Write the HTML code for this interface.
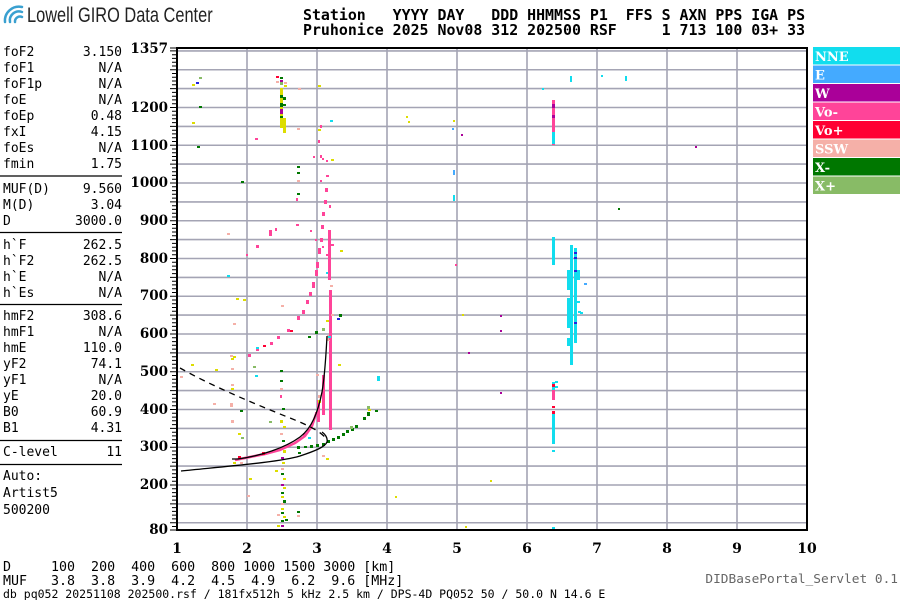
<!DOCTYPE html>
<html><head><meta charset="utf-8"><style>
body{margin:0;background:#fff;width:900px;height:600px;overflow:hidden}
svg{display:block}
.m{font-family:"DejaVu Sans Mono","Liberation Mono",monospace}
.s{font-family:"DejaVu Serif","Liberation Serif",serif;font-weight:bold}
.Y{fill:#dddd00}.G{fill:#007700}.g{fill:#88bb66}.P{fill:#ff4499}.R{fill:#ff0033}.S{fill:#f5b0a8}.W{fill:#aa0099}.C{fill:#11ddee}.E{fill:#44aaff}.B{fill:#2222dd}
</style></head><body>
<svg width="900" height="600" viewBox="0 0 900 600" xmlns="http://www.w3.org/2000/svg">
<g fill="none" stroke="#3aa0d0" stroke-width="2.5" stroke-linecap="round">
<path d="M5 22 A14 14 0 0 1 22 7"/><path d="M10 22 A9 9 0 0 1 22 12"/><path d="M15 22 A5 5 0 0 1 22 17"/></g>
<text x="27" y="22" font-family="Liberation Sans,sans-serif" font-size="21" fill="#222" transform="translate(27 0) scale(0.78 1) translate(-27 0)">Lowell GIRO Data Center</text>
<text class="m" x="303" y="20" font-size="14.9" font-weight="bold" xml:space="preserve">Station   YYYY DAY   DDD HHMMSS P1  FFS S AXN PPS IGA PS</text>
<text class="m" x="303" y="35" font-size="14.9" font-weight="bold" xml:space="preserve">Pruhonice 2025 Nov08 312 202500 RSF     1 713 100 03+ 33</text>
<g class="m" font-size="13" fill="#000">
<text x="3" y="56">foF2</text><text x="122" y="56" text-anchor="end">3.150</text>
<text x="3" y="72">foF1</text><text x="122" y="72" text-anchor="end">N/A</text>
<text x="3" y="88">foF1p</text><text x="122" y="88" text-anchor="end">N/A</text>
<text x="3" y="104">foE</text><text x="122" y="104" text-anchor="end">N/A</text>
<text x="3" y="120">foEp</text><text x="122" y="120" text-anchor="end">0.48</text>
<text x="3" y="136">fxI</text><text x="122" y="136" text-anchor="end">4.15</text>
<text x="3" y="152">foEs</text><text x="122" y="152" text-anchor="end">N/A</text>
<text x="3" y="168">fmin</text><text x="122" y="168" text-anchor="end">1.75</text>
<text x="3" y="193">MUF(D)</text><text x="122" y="193" text-anchor="end">9.560</text>
<text x="3" y="209">M(D)</text><text x="122" y="209" text-anchor="end">3.04</text>
<text x="3" y="225">D</text><text x="122" y="225" text-anchor="end">3000.0</text>
<text x="3" y="249">h`F</text><text x="122" y="249" text-anchor="end">262.5</text>
<text x="3" y="265">h`F2</text><text x="122" y="265" text-anchor="end">262.5</text>
<text x="3" y="281">h`E</text><text x="122" y="281" text-anchor="end">N/A</text>
<text x="3" y="297">h`Es</text><text x="122" y="297" text-anchor="end">N/A</text>
<text x="3" y="320">hmF2</text><text x="122" y="320" text-anchor="end">308.6</text>
<text x="3" y="336">hmF1</text><text x="122" y="336" text-anchor="end">N/A</text>
<text x="3" y="352">hmE</text><text x="122" y="352" text-anchor="end">110.0</text>
<text x="3" y="368">yF2</text><text x="122" y="368" text-anchor="end">74.1</text>
<text x="3" y="384">yF1</text><text x="122" y="384" text-anchor="end">N/A</text>
<text x="3" y="400">yE</text><text x="122" y="400" text-anchor="end">20.0</text>
<text x="3" y="416">B0</text><text x="122" y="416" text-anchor="end">60.9</text>
<text x="3" y="432">B1</text><text x="122" y="432" text-anchor="end">4.31</text>
<text x="3" y="456">C-level</text><text x="122" y="456" text-anchor="end">11</text>
<text x="3" y="480">Auto:</text><text x="3" y="497">Artist5</text><text x="3" y="514">500200</text>
</g>
<g stroke="#000" stroke-width="1.3"><line x1="0" y1="176" x2="122" y2="176"/><line x1="0" y1="232.5" x2="122" y2="232.5"/><line x1="0" y1="304.5" x2="122" y2="304.5"/><line x1="0" y1="440.5" x2="122" y2="440.5"/><line x1="0" y1="464.5" x2="122" y2="464.5"/></g>
<g stroke="#a4a4b4" stroke-width="1.6">
<line x1="177" x2="807" y1="522.75" y2="522.75"/><line x1="177" x2="807" y1="503.9" y2="503.9"/><line x1="177" x2="807" y1="485" y2="485"/><line x1="177" x2="807" y1="466.1" y2="466.1"/><line x1="177" x2="807" y1="447.25" y2="447.25"/><line x1="177" x2="807" y1="428.4" y2="428.4"/><line x1="177" x2="807" y1="409.5" y2="409.5"/><line x1="177" x2="807" y1="390.6" y2="390.6"/><line x1="177" x2="807" y1="371.75" y2="371.75"/><line x1="177" x2="807" y1="352.9" y2="352.9"/><line x1="177" x2="807" y1="334" y2="334"/><line x1="177" x2="807" y1="315.1" y2="315.1"/><line x1="177" x2="807" y1="296.25" y2="296.25"/><line x1="177" x2="807" y1="277.4" y2="277.4"/><line x1="177" x2="807" y1="258.5" y2="258.5"/><line x1="177" x2="807" y1="239.6" y2="239.6"/><line x1="177" x2="807" y1="220.75" y2="220.75"/><line x1="177" x2="807" y1="201.9" y2="201.9"/><line x1="177" x2="807" y1="183" y2="183"/><line x1="177" x2="807" y1="164.1" y2="164.1"/><line x1="177" x2="807" y1="145.25" y2="145.25"/><line x1="177" x2="807" y1="126.4" y2="126.4"/><line x1="177" x2="807" y1="107.5" y2="107.5"/><line x1="177" x2="807" y1="88.6" y2="88.6"/><line x1="177" x2="807" y1="69.75" y2="69.75"/><line x1="177" x2="807" y1="50.9" y2="50.9"/>
<line x1="247" x2="247" y1="48" y2="530"/><line x1="317" x2="317" y1="48" y2="530"/><line x1="387" x2="387" y1="48" y2="530"/><line x1="457" x2="457" y1="48" y2="530"/><line x1="527" x2="527" y1="48" y2="530"/><line x1="597" x2="597" y1="48" y2="530"/><line x1="667" x2="667" y1="48" y2="530"/><line x1="737" x2="737" y1="48" y2="530"/>
</g>
<g stroke="#000" stroke-width="2" fill="none"><path d="M177 48 H807 V530 H177 Z"/></g>
<path stroke="#000" stroke-width="1" d="M172 526.5h5M172 518.9h5M172 515.1h5M172 511.4h5M172 507.6h5M170 503.9h7M172 500.1h5M172 496.3h5M172 492.6h5M172 488.8h5M172 481.2h5M172 477.4h5M172 473.7h5M172 469.9h5M172 462.3h5M172 458.6h5M172 454.8h5M172 451h5M172 443.5h5M172 439.7h5M172 435.9h5M172 432.2h5M172 424.6h5M172 420.8h5M172 417.1h5M172 413.3h5M172 405.7h5M172 401.9h5M172 398.2h5M172 394.4h5M172 386.8h5M172 383h5M172 379.3h5M172 375.5h5M172 368h5M172 364.2h5M172 360.4h5M172 356.7h5M172 349.1h5M172 345.3h5M172 341.6h5M172 337.8h5M172 330.2h5M172 326.4h5M172 322.7h5M172 318.9h5M172 311.3h5M172 307.5h5M172 303.8h5M172 300h5M172 292.5h5M172 288.7h5M172 284.9h5M172 281.2h5M172 273.6h5M172 269.8h5M172 266.1h5M172 262.3h5M172 254.7h5M172 250.9h5M172 247.2h5M172 243.4h5M172 235.8h5M172 232h5M172 228.3h5M172 224.5h5M172 217h5M172 213.2h5M172 209.4h5M172 205.7h5M172 198.1h5M172 194.3h5M172 190.6h5M172 186.8h5M172 179.2h5M172 175.4h5M172 171.7h5M172 167.9h5M172 160.3h5M172 156.5h5M172 152.8h5M172 149h5M172 141.5h5M172 137.7h5M172 133.9h5M172 130.2h5M172 122.6h5M172 118.8h5M172 115.1h5M172 111.3h5M172 103.7h5M172 99.9h5M172 96.2h5M172 92.4h5M172 84.8h5M172 81h5M172 77.3h5M172 73.5h5M172 66h5M172 62.2h5M172 58.4h5M172 54.7h5M170 522.75h7M170 485h7M170 466.1h7M170 447.25h7M170 428.4h7M170 409.5h7M170 390.6h7M170 371.75h7M170 352.9h7M170 334h7M170 315.1h7M170 296.25h7M170 277.4h7M170 258.5h7M170 239.6h7M170 220.75h7M170 201.9h7M170 183h7M170 164.1h7M170 145.25h7M170 126.4h7M170 107.5h7M170 88.6h7M170 69.75h7M170 50.9h7M170 48h7M170 530h7"/>
<g class="s" font-size="13.5" text-anchor="end">
<text x="168" y="53">1357</text><text x="168" y="112">1200</text><text x="168" y="150">1100</text><text x="168" y="187">1000</text><text x="168" y="225">900</text><text x="168" y="263">800</text><text x="168" y="300">700</text><text x="168" y="338">600</text><text x="168" y="376">500</text><text x="168" y="414">400</text><text x="168" y="451">300</text><text x="168" y="489">200</text><text x="168" y="534">80</text>
</g>
<g class="s" font-size="14" text-anchor="middle">
<text x="177" y="553">1</text><text x="247" y="553">2</text><text x="317" y="553">3</text><text x="387" y="553">4</text><text x="457" y="553">5</text><text x="527" y="553">6</text><text x="597" y="553">7</text><text x="667" y="553">8</text><text x="737" y="553">9</text><text x="807" y="553">10</text>
</g>
<text class="m" x="3" y="571" font-size="13.3" xml:space="preserve">D     100  200  400  600  800 1000 1500 3000 [km]</text>
<text class="m" x="3" y="585" font-size="13.3" xml:space="preserve">MUF   3.8  3.8  3.9  4.2  4.5  4.9  6.2  9.6 [MHz]</text>
<text class="m" x="3" y="598" font-size="11.5">db pq052 20251108 202500.rsf / 181fx512h 5 kHz 2.5 km / DPS-4D PQ052 50 / 50.0 N 14.6 E</text>
<text class="m" x="898" y="583" font-size="12.8" fill="#666" text-anchor="end">DIDBasePortal_Servlet 0.1</text>
<g class="s" font-size="13" fill="#fff">
<rect x="813" y="47" width="87" height="17.5" fill="#11ddee"/><text x="815" y="61">NNE</text>
<rect x="813" y="65.5" width="87" height="17.5" fill="#44aaff"/><text x="815" y="79.5">E</text>
<rect x="813" y="84" width="87" height="17.5" fill="#aa0099"/><text x="815" y="98">W</text>
<rect x="813" y="102.5" width="87" height="17.5" fill="#ff4499"/><text x="815" y="116.5">Vo-</text>
<rect x="813" y="121" width="87" height="17.5" fill="#ff0033"/><text x="815" y="135">Vo+</text>
<rect x="813" y="139.5" width="87" height="17.5" fill="#f5b0a8"/><text x="815" y="153.5">SSW</text>
<rect x="813" y="158" width="87" height="17.5" fill="#007700"/><text x="815" y="172">X-</text>
<rect x="813" y="176.5" width="87" height="17.5" fill="#88bb66"/><text x="815" y="190.5">X+</text>
</g>
<g>
<rect class="Y" x="280" y="88" width="3" height="40"/><rect class="G" x="280" y="95" width="3" height="3"/><rect class="G" x="280" y="103" width="3" height="4"/><rect class="W" x="280" y="110" width="3" height="3"/><rect class="G" x="283" y="97" width="3" height="3"/><rect class="G" x="283" y="104" width="3" height="2"/><rect class="Y" x="283" y="118" width="3" height="15"/><rect class="R" x="276" y="76" width="3" height="2"/><rect class="G" x="280" y="77" width="3" height="2"/><rect class="W" x="280" y="80" width="3" height="2"/><rect class="S" x="276" y="81" width="3" height="2"/><rect class="g" x="280" y="82" width="3" height="3"/><rect class="S" x="284" y="82" width="3" height="2"/><rect class="Y" x="284" y="85" width="3" height="2"/><rect class="W" x="280" y="109" width="3" height="5"/><rect class="G" x="280" y="116" width="3" height="2"/>
<rect class="S" x="281" y="305" width="3" height="2"/><rect class="G" x="280" y="370" width="3" height="2"/><rect class="G" x="280" y="380" width="3" height="2"/><rect class="S" x="280" y="388" width="3" height="2"/><rect class="Y" x="280" y="420" width="3" height="3"/><rect class="P" x="280" y="395" width="2" height="3"/><rect class="Y" x="283" y="426" width="3" height="2"/><rect class="S" x="280" y="433" width="3" height="2"/><rect class="G" x="282" y="440" width="3" height="2"/><rect class="Y" x="283" y="450" width="3" height="3"/><rect class="W" x="281" y="457" width="3" height="2"/><rect class="Y" x="282" y="462" width="3" height="2"/><rect class="S" x="281" y="468" width="3" height="2"/><rect class="G" x="281" y="473" width="3" height="2"/><rect class="Y" x="283" y="478" width="3" height="2"/><rect class="W" x="281" y="484" width="3" height="2"/><rect class="Y" x="283" y="487" width="3" height="2"/><rect class="G" x="281" y="492" width="3" height="2"/><rect class="Y" x="281" y="496" width="3" height="2"/><rect class="G" x="283" y="500" width="3" height="3"/><rect class="S" x="281" y="503" width="3" height="2"/><rect class="Y" x="281" y="508" width="3" height="2"/><rect class="G" x="281" y="512" width="3" height="2"/><rect class="Y" x="283" y="516" width="3" height="2"/><rect class="G" x="281" y="520" width="3" height="2"/><rect class="W" x="281" y="525" width="3" height="2"/><rect class="Y" x="277" y="525" width="3" height="2"/><rect class="S" x="277" y="514" width="3" height="2"/><rect class="G" x="285" y="519" width="3" height="2"/><rect class="Y" x="275" y="470" width="3" height="2"/><rect class="G" x="297" y="511" width="3" height="2"/><rect class="S" x="297" y="515" width="3" height="2"/>
<path fill="none" stroke="#ff4499" stroke-width="2.5" d="M235 460 L250 457 L265 454 L280 450 L295 443 L305 436 L312 426 L316 414"/>
<rect class="R" x="238" y="456" width="3" height="3"/><rect class="R" x="262" y="452" width="3" height="3"/><rect class="P" x="317" y="400" width="3" height="22"/><rect class="P" x="322" y="375" width="3" height="40"/><rect class="P" x="329" y="340" width="3" height="90"/><rect class="S" x="327" y="335" width="3" height="6"/>
<rect class="P" x="248" y="354" width="3" height="3"/><rect class="P" x="256" y="348" width="3" height="3"/><rect class="R" x="263" y="345" width="3" height="2"/><rect class="P" x="270" y="342" width="3" height="3"/><rect class="P" x="277" y="336" width="3" height="3"/><rect class="P" x="287" y="329" width="3" height="3"/><rect class="R" x="290" y="330" width="3" height="2"/><rect class="P" x="297" y="316" width="3" height="4"/><rect class="P" x="302" y="310" width="3" height="4"/><rect class="P" x="306" y="300" width="3" height="4"/><rect class="P" x="309" y="292" width="3" height="4"/><rect class="P" x="312" y="282" width="3" height="6"/><rect class="P" x="315" y="270" width="3" height="6"/><rect class="P" x="316" y="262" width="3" height="6"/><rect class="P" x="318" y="248" width="3" height="6"/><rect class="P" x="320" y="238" width="3" height="4"/><rect class="P" x="321" y="225" width="3" height="4"/><rect class="P" x="322" y="212" width="3" height="4"/><rect class="P" x="324" y="200" width="3" height="4"/><rect class="P" x="325" y="188" width="3" height="4"/><rect class="P" x="326" y="175" width="3" height="2"/><rect class="P" x="322" y="158" width="2" height="2"/><rect class="P" x="318" y="140" width="2" height="3"/><rect class="P" x="320" y="125" width="2" height="3"/><rect class="P" x="326" y="160" width="2" height="2"/><rect class="P" x="329" y="205" width="2" height="3"/><rect class="P" x="328" y="230" width="3" height="50"/><rect class="P" x="331" y="244" width="3" height="2"/><rect class="P" x="322" y="246" width="2" height="2"/><rect class="P" x="326" y="254" width="2" height="2"/><rect class="P" x="329" y="290" width="3" height="50"/><rect class="S" x="330" y="285" width="3" height="2"/><rect class="P" x="315" y="239" width="2" height="2"/><rect class="P" x="310" y="230" width="2" height="2"/><rect class="P" x="320" y="180" width="2" height="2"/><rect class="P" x="269" y="230" width="3" height="6"/><rect class="P" x="275" y="228" width="2" height="3"/><rect class="P" x="256" y="245" width="3" height="3"/><rect class="P" x="246" y="254" width="2" height="2"/><rect class="P" x="255" y="138" width="3" height="2"/><rect class="P" x="296" y="198" width="2" height="3"/><rect class="P" x="296" y="224" width="3" height="2"/><rect class="P" x="313" y="156" width="2" height="2"/>
<rect class="C" x="255" y="375" width="3" height="2"/><rect class="C" x="256" y="347" width="3" height="2"/><rect class="C" x="326" y="272" width="2" height="2"/><rect class="C" x="328" y="336" width="3" height="2"/><rect class="B" x="337" y="318" width="3" height="2"/><rect class="G" x="339" y="314" width="3" height="3"/><rect class="G" x="315" y="331" width="3" height="3"/><rect class="g" x="322" y="328" width="3" height="3"/><rect class="G" x="308" y="336" width="3" height="2"/>
<rect class="G" x="297" y="446" width="3" height="3"/><rect class="G" x="304" y="446" width="3" height="2"/><rect class="G" x="310" y="445" width="3" height="3"/><rect class="G" x="316" y="444" width="3" height="3"/><rect class="G" x="322" y="443" width="3" height="3"/><rect class="G" x="327" y="440" width="3" height="3"/><rect class="G" x="332" y="438" width="3" height="3"/><rect class="G" x="337" y="436" width="3" height="3"/><rect class="G" x="342" y="433" width="3" height="3"/><rect class="G" x="346" y="430" width="3" height="3"/><rect class="G" x="351" y="428" width="3" height="3"/><rect class="G" x="355" y="425" width="3" height="3"/><rect class="g" x="350" y="426" width="3" height="3"/><rect class="G" x="363" y="417" width="3" height="3"/><rect class="G" x="367" y="412" width="3" height="4"/><rect class="g" x="367" y="406" width="3" height="3"/><rect class="G" x="298" y="452" width="3" height="2"/>
<rect class="Y" x="192" y="84" width="3" height="2"/><rect class="B" x="196" y="82" width="3" height="2"/><rect class="g" x="199" y="77" width="3" height="2"/><rect class="G" x="199" y="106" width="3" height="2"/><rect class="Y" x="192" y="122" width="3" height="2"/><rect class="G" x="197" y="146" width="3" height="2"/><rect class="G" x="241" y="181" width="3" height="2"/><rect class="S" x="227" y="233" width="3" height="2"/><rect class="Y" x="243" y="299" width="3" height="2"/><rect class="C" x="227" y="275" width="3" height="2"/><rect class="Y" x="191" y="364" width="3" height="2"/><rect class="S" x="230" y="355" width="3" height="2"/><rect class="Y" x="233" y="356" width="3" height="2"/><rect class="S" x="231" y="368" width="3" height="2"/><rect class="Y" x="231" y="358" width="3" height="2"/><rect class="g" x="253" y="366" width="3" height="2"/><rect class="S" x="231" y="384" width="3" height="2"/><rect class="Y" x="231" y="388" width="3" height="2"/><rect class="S" x="230" y="403" width="3" height="4"/><rect class="S" x="231" y="420" width="3" height="3"/><rect class="G" x="240" y="410" width="3" height="2"/><rect class="Y" x="238" y="433" width="3" height="2"/><rect class="g" x="241" y="437" width="3" height="2"/><rect class="S" x="213" y="403" width="3" height="2"/><rect class="Y" x="215" y="369" width="3" height="2"/><rect class="S" x="180" y="376" width="3" height="2"/><rect class="S" x="240" y="462" width="3" height="2"/><rect class="Y" x="249" y="478" width="3" height="2"/><rect class="Y" x="233" y="462" width="3" height="2"/><rect class="S" x="247" y="495" width="3" height="2"/><rect class="G" x="282" y="408" width="3" height="2"/><rect class="g" x="269" y="421" width="3" height="2"/><rect class="Y" x="236" y="298" width="3" height="2"/><rect class="S" x="233" y="323" width="3" height="2"/>
<rect class="S" x="298" y="88" width="3" height="2"/><rect class="Y" x="318" y="85" width="3" height="2"/><rect class="C" x="330" y="120" width="3" height="2"/><rect class="Y" x="318" y="129" width="3" height="2"/><rect class="S" x="297" y="128" width="3" height="2"/><rect class="P" x="320" y="155" width="2" height="3"/><rect class="G" x="297" y="166" width="3" height="2"/><rect class="G" x="297" y="172" width="3" height="2"/><rect class="S" x="297" y="180" width="3" height="2"/><rect class="G" x="297" y="193" width="3" height="2"/><rect class="Y" x="331" y="159" width="3" height="2"/><rect class="Y" x="340" y="250" width="3" height="2"/><rect class="Y" x="338" y="364" width="3" height="2"/><rect class="S" x="316" y="374" width="3" height="2"/><rect class="Y" x="318" y="400" width="3" height="3"/><rect class="S" x="318" y="395" width="3" height="3"/><rect class="S" x="322" y="455" width="3" height="2"/><rect class="Y" x="326" y="458" width="3" height="2"/><rect class="C" x="308" y="437" width="3" height="2"/><rect class="P" x="303" y="433" width="3" height="3"/><rect class="S" x="331" y="314" width="3" height="2"/><rect class="Y" x="326" y="320" width="3" height="2"/><rect class="P" x="315" y="412" width="3" height="3"/><rect class="G" x="375" y="410" width="3" height="2"/><rect class="Y" x="368" y="409" width="3" height="2"/>
<rect class="Y" x="406" y="116" width="2" height="2"/><rect class="Y" x="408" y="121" width="2" height="2"/><rect class="E" x="452" y="128" width="2" height="2"/><rect class="Y" x="453" y="120" width="2" height="2"/><rect class="E" x="453" y="170" width="2" height="5"/><rect class="C" x="453" y="195" width="2" height="6"/><rect class="C" x="377" y="376" width="3" height="5"/><rect class="Y" x="395" y="496" width="2" height="2"/><rect class="W" x="461" y="134" width="2" height="2"/><rect class="P" x="455" y="264" width="2" height="2"/><rect class="Y" x="462" y="314" width="2" height="2"/><rect class="W" x="468" y="352" width="2" height="2"/><rect class="W" x="500" y="392" width="2" height="2"/><rect class="W" x="500" y="315" width="2" height="2"/><rect class="W" x="500" y="330" width="2" height="2"/><rect class="Y" x="490" y="480" width="2" height="2"/><rect class="Y" x="465" y="526" width="2" height="2"/><rect class="C" x="542" y="88" width="2" height="2"/><rect class="W" x="695" y="146" width="2" height="2"/><rect class="G" x="618" y="208" width="2" height="2"/><rect class="C" x="601" y="75" width="2" height="2"/><rect class="C" x="625" y="76" width="2" height="5"/>
<rect class="P" x="552" y="100" width="3" height="45"/><rect class="W" x="552" y="104" width="3" height="4"/><rect class="W" x="552" y="115" width="3" height="3"/><rect class="C" x="552" y="132" width="3" height="12"/><rect class="C" x="552" y="237" width="3" height="28"/><rect class="C" x="552" y="382" width="3" height="12"/><rect class="R" x="552" y="384" width="3" height="3"/><rect class="P" x="552" y="390" width="3" height="10"/><rect class="C" x="555" y="381" width="3" height="2"/><rect class="C" x="555" y="386" width="3" height="2"/><rect class="R" x="552" y="406" width="3" height="2"/><rect class="R" x="552" y="411" width="3" height="3"/><rect class="C" x="552" y="414" width="3" height="30"/><rect class="C" x="552" y="450" width="3" height="2"/><rect class="C" x="552" y="527" width="3" height="2"/>
<rect class="C" x="570" y="76" width="2" height="6"/><rect class="C" x="570" y="245" width="3" height="120"/><rect class="C" x="567" y="270" width="3" height="20"/><rect class="C" x="567" y="298" width="3" height="30"/><rect class="C" x="567" y="338" width="3" height="8"/><rect class="C" x="574" y="248" width="3" height="95"/><rect class="B" x="574" y="252" width="3" height="2"/><rect class="B" x="574" y="257" width="3" height="2"/><rect class="B" x="574" y="270" width="3" height="2"/><rect class="B" x="574" y="322" width="3" height="2"/><rect class="C" x="577" y="270" width="3" height="10"/><rect class="C" x="577" y="301" width="3" height="2"/><rect class="C" x="578" y="311" width="3" height="2"/><rect class="E" x="584" y="283" width="3" height="2"/><rect class="C" x="580" y="312" width="3" height="2"/>
</g>
<g fill="none" stroke="#000" stroke-width="1.3">
<path d="M181 471 C230 466 280 462 300 456 C315 451 325 447 327 442 C328 438 325 434 322 432"/>
<path d="M232 459 L238 459 C260 456 285 448 300 437 C312 428 318 412 322 392 C325 375 326 355 327 336"/>
<path stroke-dasharray="6,5" d="M180 368 C210 385 250 402 290 418 C310 426 322 432 327 440"/>
</g>
</svg>
</body></html>
